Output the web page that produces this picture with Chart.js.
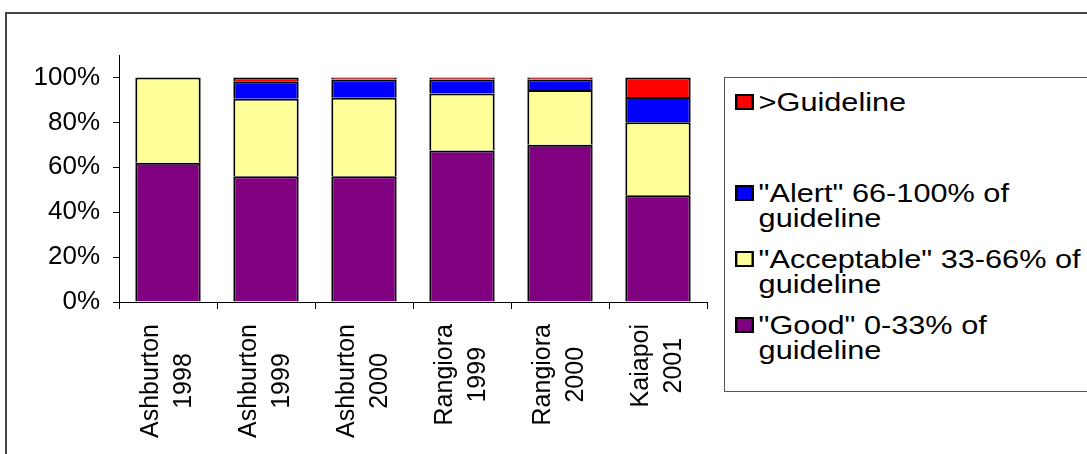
<!DOCTYPE html>
<html>
<head>
<meta charset="utf-8">
<script src="https://cdn.jsdelivr.net/npm/chart.js@4/dist/chart.umd.min.js"></script>
<style>
  body { margin: 0; background: #fff; width: 1087px; height: 454px; overflow: hidden; position: relative; font-family: "Liberation Sans", Arial, sans-serif; }
  #frame { position: absolute; left: 5px; top: 12px; width: 1100px; height: 460px; border: 2px solid #444; }
  #chartBox { position: absolute; left: 0; top: 0; width: 720px; height: 454px; }
  #legend { position: absolute; left: 724px; top: 77px; width: 380px; height: 315px; border: 1px solid #555; box-sizing: border-box; }
  .item { position: absolute; left: 10px; transform: scaleX(1.18); transform-origin: left top; display: flex; align-items: flex-start; }
  .mark { width: 16px; height: 16px; border: 2px solid #000; box-sizing: border-box; margin-top: 4px; margin-right: 4px; flex: none; }
  .txt { font-size: 26px; line-height: 25px; width: 282px; color: #000; }
</style>
</head>
<body>
<div id="frame"></div>
<div id="chartBox"><canvas id="chartCanvas"></canvas></div>
<div id="legend"></div>
<script>
// categories (two-line tick labels)
const categories = [
  ["Ashburton", "1998"],
  ["Ashburton", "1999"],
  ["Ashburton", "2000"],
  ["Rangiora", "1999"],
  ["Rangiora", "2000"],
  ["Kaiapoi", "2001"]
];

// percentages, bottom to top of each bar
const good       = [62, 56, 56, 67.5, 70, 47.5];
const acceptable = [38, 34.5, 35, 25.3, 24.4, 32.5];
const alert      = [0, 7.8, 8.1, 6.3, 4.7, 11.3];
const overGuide  = [0, 1.7, 0.9, 0.9, 0.9, 8.7];

const seriesNames = [
  '"Good" 0-33% of guideline',
  '"Acceptable" 33-66% of guideline',
  '"Alert" 66-100% of guideline',
  '>Guideline'
];
const seriesColors = ["#800080", "#FFFF99", "#0000FF", "#FF0000"];
const seriesData = [good, acceptable, alert, overGuide];

const yTicks = [0, 20, 40, 60, 80, 100];

const FONT = "'Liberation Sans', Arial, sans-serif";

// rotated, centred two-line category labels (Excel style)
const xLabelPlugin = {
    id: "xLabels",
    afterDraw(chart) {
        let sc = chart.scales.x;
        let ctx = chart.ctx;
        ctx.save();
        ctx.font = "25px " + FONT;
        ctx.fillStyle = "#000";
        ctx.textAlign = "center";
        ctx.textBaseline = "middle";
        let top = sc.top + 22;
        let lh = 33;
        categories.forEach((lines, i) => {
            let x = sc.getPixelForValue(i);
            let maxW = Math.max(...lines.map(l => ctx.measureText(l).width));
            ctx.save();
            ctx.translate(x, top);
            ctx.rotate(-Math.PI / 2);
            lines.forEach((l, j) => {
                ctx.fillText(l, -maxW / 2, (j - (lines.length - 1) / 2) * lh);
            });
            ctx.restore();
        });
        ctx.restore();
    }
};

let ctx = document.getElementById("chartCanvas");

let chart = new Chart(ctx, {
    type: "bar",
    data: {
        labels: categories.map(c => c.join(" ")),
        datasets: seriesData.map((d, i) => ({
            label: seriesNames[i],
            data: d,
            backgroundColor: seriesColors[i],
            borderColor: "#000",
            borderWidth: 2,
            categoryPercentage: 1,
            barPercentage: 0.667
        }))
    },
    options: {
        responsive: true,
        maintainAspectRatio: false,
        animation: false,
        layout: { padding: { top: 55, right: 13, left: 0, bottom: 0 } },
        plugins: { legend: { display: false }, tooltip: { enabled: false } },
        scales: {
            x: {
                stacked: true,
                grid: { drawOnChartArea: false, tickLength: 7, tickColor: "#000", offset: true },
                border: { color: "#000", width: 1 },
                ticks: { display: false },
                afterFit: s => { s.height = 152; }
            },
            y: {
                stacked: true,
                min: 0,
                max: 110,
                grid: { drawOnChartArea: false, tickLength: 6, tickColor: "#000" },
                border: { color: "#000", width: 1 },
                ticks: {
                    padding: 13,
                    color: "#000",
                    font: { family: FONT, size: 26 },
                    callback: v => v + "%"
                },
                afterBuildTicks: s => { s.ticks = yTicks.map(v => ({ value: v })); },
                afterFit: s => { s.width = 119; }
            }
        }
    },
    plugins: [xLabelPlugin]
});

// legend, top series first
const legendTops = [12, 103, 169, 235];
let legend = document.getElementById("legend");
for (let k = seriesNames.length - 1, n = 0; k >= 0; k--, n++) {
    let item = document.createElement("div");
    item.className = "item";
    item.style.top = legendTops[n] + "px";
    let mark = document.createElement("div");
    mark.className = "mark";
    mark.style.background = seriesColors[k];
    let txt = document.createElement("div");
    txt.className = "txt";
    txt.textContent = seriesNames[k];
    item.appendChild(mark);
    item.appendChild(txt);
    legend.appendChild(item);
}
</script>
</body>
</html>
